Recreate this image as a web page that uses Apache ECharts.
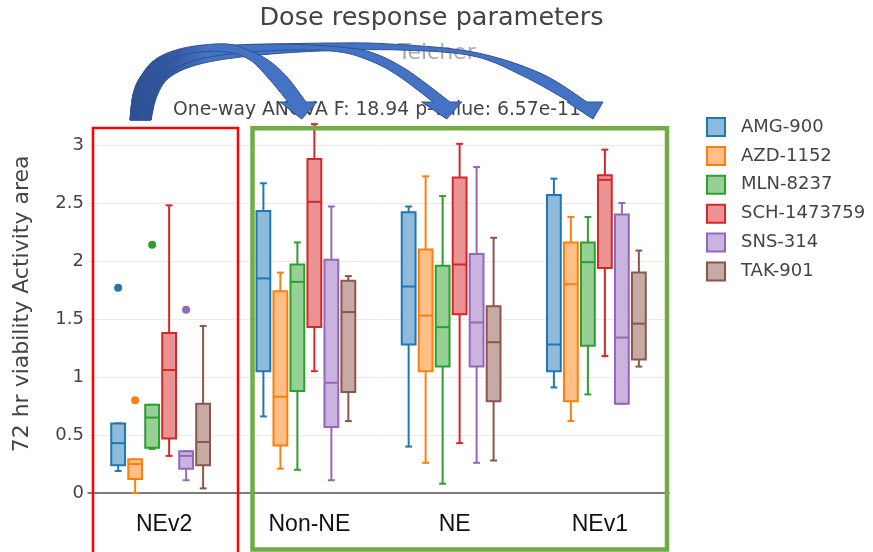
<!DOCTYPE html>
<html>
<head>
<meta charset="utf-8">
<script src="https://cdn.jsdelivr.net/npm/echarts@6/dist/echarts.min.js"></script>
<style>
  html, body { margin: 0; padding: 0; background: #fff; }
  #chart { width: 873px; height: 552px; }
</style>
</head>
<body>
<div id="chart"></div>
<script>
// Cell-line groups along the x axis
const categories = ['NEv2', 'Non-NE', 'NE', 'NEv1'];
const drugs = ['AMG-900', 'AZD-1152', 'MLN-8237', 'SCH-1473759', 'SNS-314', 'TAK-901'];
const drugColors = ['#1f77b4', '#ff7f0e', '#2ca02c', '#d62728', '#9467bd', '#8c564b'];
const yTicks = [0, 0.5, 1, 1.5, 2, 2.5, 3];

// Box statistics per group: [lower whisker, Q1, median, Q3, upper whisker]
const amg900 = [[0.19, 0.24, 0.43, 0.60, 0.60], [0.66, 1.05, 1.85, 2.43, 2.67], [0.40, 1.28, 1.78, 2.42, 2.47], [0.91, 1.05, 1.28, 2.57, 2.71]];
const azd1152 = [[0.00, 0.12, 0.25, 0.29, 0.29], [0.21, 0.41, 0.83, 1.74, 1.90], [0.26, 1.05, 1.53, 2.10, 2.73], [0.62, 0.79, 1.80, 2.16, 2.38]];
const mln8237 = [[0.38, 0.39, 0.65, 0.76, 0.76], [0.20, 0.88, 1.82, 1.97, 2.16], [0.08, 1.09, 1.43, 1.96, 2.56], [0.85, 1.27, 1.99, 2.16, 2.38]];
const sch1473759 = [[0.32, 0.47, 1.06, 1.38, 2.48], [1.05, 1.43, 2.51, 2.88, 3.18], [0.43, 1.54, 1.97, 2.72, 3.01], [1.18, 1.94, 2.70, 2.74, 2.96]];
const sns314 = [[0.11, 0.21, 0.32, 0.36, 0.36], [0.11, 0.57, 0.95, 2.01, 2.47], [0.26, 1.09, 1.47, 2.06, 2.81], [0.77, 0.77, 1.34, 2.40, 2.50]];
const tak901 = [[0.04, 0.24, 0.44, 0.77, 1.44], [0.62, 0.87, 1.56, 1.83, 1.87], [0.28, 0.79, 1.30, 1.61, 2.20], [1.09, 1.15, 1.46, 1.90, 2.09]];

// Outliers: [group index, value]
const amg900Outliers = [[0, 1.77]];
const azd1152Outliers = [[0, 0.80]];
const mln8237Outliers = [[0, 2.14]];
const sch1473759Outliers = [];
const sns314Outliers = [[0, 1.58]];
const tak901Outliers = [];

const boxStats = [amg900, azd1152, mln8237, sch1473759, sns314, tak901];
const outliers = [amg900Outliers, azd1152Outliers, mln8237Outliers, sch1473759Outliers, sns314Outliers, tak901Outliers];

function lighten(hex, a) {
  const n = parseInt(hex.slice(1), 16);
  const r = (n >> 16) & 255, g = (n >> 8) & 255, b = n & 255;
  const mix = c => Math.round(c * a + 255 * (1 - a));
  return 'rgb(' + mix(r) + ',' + mix(g) + ',' + mix(b) + ')';
}

const FONT = 'DejaVu Sans';
const OFFSET_STEP = 0.117;   // spacing between boxes, fraction of band
const BOX_FRAC = 0.095;      // box width, fraction of band

function boxRenderer(idx) {
  const color = drugColors[idx];
  const fill = lighten(color, 0.5);
  return function (params, api) {
    const cat = api.value(0);
    const band = api.size([1, 0])[0];
    const off = (idx - (drugs.length - 1) / 2) * band * OFFSET_STEP;
    const bw = band * BOX_FRAC;
    const cw = bw / 2;
    const base = api.coord([cat, 0]);
    const cx = base[0] + off;
    const y = k => api.coord([cat, api.value(k)])[1];
    const lo = y(1), q1 = y(2), med = y(3), q3 = y(4), hi = y(5);
    const ls = { stroke: color, lineWidth: 2 };
    const line = (x1, y1, x2, y2) => ({ type: 'line', shape: { x1, y1, x2, y2 }, style: ls });
    return {
      type: 'group',
      children: [
        line(cx, hi, cx, q3),
        line(cx, q1, cx, lo),
        line(cx - cw / 2, hi, cx + cw / 2, hi),
        line(cx - cw / 2, lo, cx + cw / 2, lo),
        { type: 'rect', shape: { x: cx - bw / 2, y: q3, width: bw, height: q1 - q3 }, style: { fill: fill, stroke: color, lineWidth: 2 } },
        line(cx - bw / 2, med, cx + bw / 2, med)
      ]
    };
  };
}

function outlierRenderer(idx) {
  const color = drugColors[idx];
  return function (params, api) {
    const cat = api.value(0);
    const band = api.size([1, 0])[0];
    const off = (idx - (drugs.length - 1) / 2) * band * OFFSET_STEP;
    const p = api.coord([cat, api.value(1)]);
    return { type: 'circle', shape: { cx: p[0] + off, cy: p[1], r: 4 }, style: { fill: color } };
  };
}

const series = [];
drugs.forEach((name, i) => {
  series.push({
    type: 'custom',
    name: name,
    itemStyle: { color: drugColors[i] },
    renderItem: boxRenderer(i),
    encode: { x: 0, y: [1, 2, 3, 4, 5] },
    data: boxStats[i].map((s, c) => [c].concat(s)),
    z: 3
  });
  series.push({
    type: 'custom',
    name: name,
    itemStyle: { color: drugColors[i] },
    renderItem: outlierRenderer(i),
    encode: { x: 0, y: 1 },
    data: outliers[i],
    z: 3
  });
});

// Sample a smooth curve through the given points (Catmull-Rom spline)
function smoothPoints(pts) {
  const out = [];
  for (let i = 0; i < pts.length - 1; i++) {
    const p0 = pts[Math.max(i - 1, 0)], p1 = pts[i], p2 = pts[i + 1], p3 = pts[Math.min(i + 2, pts.length - 1)];
    const c1 = [p1[0] + (p2[0] - p0[0]) / 6, p1[1] + (p2[1] - p0[1]) / 6];
    const c2 = [p2[0] - (p3[0] - p1[0]) / 6, p2[1] - (p3[1] - p1[1]) / 6];
    const steps = 12;
    for (let s = (i === 0 ? 0 : 1); s <= steps; s++) {
      const t = s / steps, u = 1 - t;
      out.push([
        u * u * u * p1[0] + 3 * u * u * t * c1[0] + 3 * u * t * t * c2[0] + t * t * t * p2[0],
        u * u * u * p1[1] + 3 * u * u * t * c1[1] + 3 * u * t * t * c2[1] + t * t * t * p2[1]
      ]);
    }
  }
  return out;
}

function arrowGraphic(outer, head, inner, z) {
  const pts = smoothPoints(outer).concat(head, smoothPoints(inner));
  const xs = pts.map(p => p[0]);
  const minX = Math.min.apply(null, xs), maxX = Math.max.apply(null, xs);
  const stop = Math.min(0.9, (205 - minX) / (maxX - minX));
  return {
    type: 'polygon',
    z: z,
    shape: { points: pts },
    style: {
      fill: {
        type: 'linear', x: 0, y: 0, x2: 1, y2: 0,
        colorStops: [
          { offset: 0, color: '#2b5091' },
          { offset: stop * 0.6, color: '#3559a3' },
          { offset: stop, color: '#4472c4' },
          { offset: 1, color: '#4472c4' }
        ]
      },
      stroke: '#2f528f',
      lineWidth: 1
    }
  };
}

const arrowNEv1 = arrowGraphic(
  [[130, 120], [133, 95], [141, 76], [158, 60], [190, 50], [250, 45], [330, 43], [390, 44], [473, 52], [540, 73], [587, 102]],
  [[603, 102], [593, 119], [567, 102]],
  [[570, 102], [523, 76], [473, 56], [400, 50], [320, 51], [250, 56], [200, 64], [170, 77], [157, 96], [151, 120]],
  20
);
const arrowNE = arrowGraphic(
  [[130, 120], [133, 95], [140, 78], [155, 62], [180, 52], [220, 46], [280, 44], [340, 47], [373, 53], [407, 70], [450, 102]],
  [[461.7, 102], [446.7, 119], [421.7, 102]],
  [[433, 102], [400, 77], [373, 62], [340, 52], [290, 50], [230, 54], [190, 62], [165, 76], [155, 95], [151, 120]],
  21
);
const arrowNonNE = arrowGraphic(
  [[130, 120], [133, 95], [140, 78], [152, 62], [170, 52], [195, 46], [227, 44], [248, 50], [268, 60], [287, 77], [306, 102]],
  [[317, 102], [301.7, 119], [280, 102]],
  [[288, 102], [270, 80], [250, 60], [227, 52], [200, 52], [178, 57], [161, 72], [154, 92], [151, 120]],
  22
);

const chart = echarts.init(document.getElementById('chart'), null, { renderer: 'canvas' });

chart.setOption({
  backgroundColor: '#ffffff',
  animation: false,
  grid: { left: 88, right: 204, top: 121.8, bottom: 59, containLabel: false },
  legend: {
    left: 701,
    top: 112,
    orient: 'vertical',
    itemWidth: 18,
    itemHeight: 18,
    itemGap: 8.9,
    icon: 'rect',
    textStyle: { fontFamily: FONT, fontSize: 18, color: '#444', padding: [0, 0, 0, 11], lineHeight: 18 },
    data: drugs.map((n, i) => ({
      name: n,
      icon: 'rect',
      itemStyle: { color: lighten(drugColors[i], 0.5), borderColor: drugColors[i], borderWidth: 2 }
    }))
  },
  xAxis: {
    type: 'category',
    data: categories,
    axisLine: { show: true, lineStyle: { color: '#555', width: 1.5 } },
    axisTick: { show: false },
    splitLine: { show: false },
    axisLabel: { fontFamily: 'Liberation Sans', fontSize: 23, color: '#111', margin: 20, padding: [0, 0, 0, 7] }
  },
  yAxis: {
    type: 'value',
    min: 0,
    max: 3.2,
    interval: 0.5,
    name: '72 hr viability Activity area',
    nameLocation: 'middle',
    nameGap: 55,
    nameTextStyle: { fontFamily: FONT, fontSize: 22, color: '#444', padding: [0, 0, 0, 7] },
    axisLine: { show: false },
    axisTick: { show: false },
    splitLine: { show: true, showMaxLine: false, lineStyle: { color: '#eaeaea', width: 1 } },
    axisLabel: {
      fontFamily: FONT, fontSize: 18, color: '#444', margin: 4,
      formatter: v => (yTicks.indexOf(v) >= 0 ? String(v) : '')
    }
  },
  graphic: [
    { type: 'text', z: 10, style: { text: 'Dose response parameters', x: 431.5, y: 18, textAlign: 'center', textVerticalAlign: 'middle', font: '25.5px "DejaVu Sans"', fill: '#444' } },
    { type: 'text', z: 10, style: { text: 'Teicher', x: 436.7, y: 53, textAlign: 'center', textVerticalAlign: 'middle', font: '22px "DejaVu Sans"', fill: '#aaa' } },
    { type: 'text', z: 10, style: { text: 'One-way ANOVA F: 18.94 p-value: 6.57e-11', x: 377, y: 110, textAlign: 'center', textVerticalAlign: 'middle', font: '18.8px "DejaVu Sans"', fill: '#444' } },
    { type: 'rect', z: 15, shape: { x: 93, y: 128, width: 145, height: 440 }, style: { fill: 'none', stroke: '#ff0000', lineWidth: 2.5 } },
    { type: 'rect', z: 15, shape: { x: 252.5, y: 128.3, width: 414.5, height: 421.2 }, style: { fill: 'none', stroke: '#70ad47', lineWidth: 4.5 } },
    arrowNEv1,
    arrowNE,
    arrowNonNE
  ],
  series: series
});
</script>
</body>
</html>
